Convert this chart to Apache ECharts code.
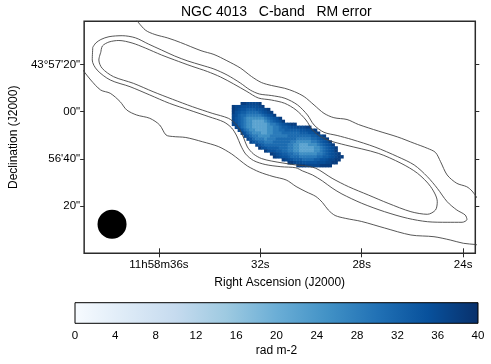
<!DOCTYPE html>
<html>
<head>
<meta charset="utf-8">
<title>NGC 4013 C-band RM error</title>
<script src="https://cdn.jsdelivr.net/npm/echarts@6/dist/echarts.min.js"></script>
<style>
  html, body { margin: 0; padding: 0; background: #fff; }
  #chart { width: 491px; height: 364px; }
</style>
</head>
<body>
<div id="chart"></div>
<script>
// ---- axes: RA seconds (11h58m..s), Dec arcsec above 43d56m00s
var raTicks = [36, 32, 28, 24];
var raLabels = ['11h58m36s', '32s', '28s', '24s'];
var decTicks = [20, 40, 60, 80];
var decLabels = ['20"', '56\'40"', '00"', '43\u00b057\'20"'];

// colour scale, rad m-2
var cbRange = [0, 40];
var bluesColors = ['#f7fbff', '#deebf7', '#c6dbef', '#9ecae1', '#6baed6', '#4292c6', '#2171b5', '#08519c', '#08306b'];

// RM error map: one string per row (top to bottom), one char per pixel, '.' = blank
// the digit indexes rmLevels
var rmLevels = [22, 25.5, 28.5, 31, 33, 34.5, 35.5, 36.5, 38];
var rmRows = [
  '...8877778',
  '87766666678',
  '8765544455678',
  '86544333345678',
  '764332222234568',
  '75432111111234568',
  '754321100001234568',
  '7643211000001223456788',
  '.75321100000112234456677788',
  '..753211000011223344444556678',
  '...753211100112223333334445568',
  '....7532211112222223333333344568',
  '.....7532221222333333322222334568',
  '......7543322233333322111112234568',
  '........754333333332211000111234568',
  '.........865444433322110000011234568',
  '...........8655443322110000011234568',
  '.............876544332211111122345678',
  '..............876554333222222334456788',
  '.................87654443333445567788',
  '...................88766555556667788',
  '......................888777778888'
];
// map pixel grid: RA/Dec of the top-left corner, pixel size
var mapRa0 = 33.127, mapDec0 = 64.11, mapDRa = 0.1157, mapDDec = 1.25;

// total intensity contours [RA s, Dec "]
var outerTop = [[36.95,99.7],[36.54,94.62],[36.16,92.71],[35.65,91.23],[35.15,89.32],[34.34,85.85],[33.83,84.24],[33.32,81.61],[32.79,78.52],[32.35,74.92],[31.96,72.37],[31.56,71.10],[31.04,69.92],[30.65,68.47],[30.27,66.36],[29.88,62.84],[29.49,59.32],[29.10,57.46],[28.58,56.69],[28.13,54.58],[27.35,51.82],[26.58,49.28],[25.93,46.61],[25.41,44.49],[25.09,42.71],[24.89,38.81],[24.63,33.18],[24.25,29.66],[23.86,28.22],[23.65,26.40],[23.42,23.0]];
var outerBottom = [[39.03,78.09],[38.95,76.95],[38.69,73.43],[38.30,69.19],[37.92,67.80],[37.53,64.24],[37.27,60.72],[36.88,58.60],[36.36,57.20],[35.97,54.36],[35.72,50.13],[35.46,49.49],[34.94,49.07],[34.29,47.29],[33.64,45.17],[33.13,42.08],[32.82,39.53],[32.51,36.99],[32.04,34.45],[31.50,32.54],[30.98,31.06],[30.59,28.31],[30.20,26.10],[29.81,24.07],[29.55,21.53],[29.32,18.35],[29.05,16.02],[28.65,14.83],[28.00,13.47],[27.10,10.72],[26.06,7.75],[25.15,7.03],[24.51,5.64],[23.99,4.24],[23.52,3.73],[23.42,3.52]];
var middleLoop = [[38.61,87.29],[38.49,89.11],[38.29,90.59],[37.97,91.78],[37.45,92.20],[36.93,91.31],[36.42,88.69],[35.90,86.14],[35.38,83.60],[34.86,81.48],[34.34,79.79],[33.83,78.09],[33.31,75.55],[32.79,72.16],[32.40,69.19],[32.04,67.50],[31.57,66.86],[31.03,65.68],[30.53,62.84],[30.14,58.60],[29.88,54.36],[29.49,51.27],[28.97,49.92],[28.39,48.22],[27.48,45.04],[26.58,40.93],[25.93,37.42],[25.41,32.46],[25.02,27.54],[24.63,21.86],[24.25,18.35],[23.92,16.23],[23.85,14.32],[24.04,13.14],[24.63,13.14],[25.41,13.39],[26.19,14.83],[27.10,17.63],[28.00,21.19],[28.78,25.13],[29.17,27.67],[29.55,30.64],[29.94,33.18],[30.33,34.87],[30.60,36.23],[31.19,36.69],[31.81,37.63],[32.27,39.32],[32.58,42.08],[32.78,45.89],[32.93,49.70],[33.13,53.09],[33.44,55.64],[34.03,57.88],[34.81,60.72],[35.59,63.56],[36.36,67.08],[37.14,70.59],[37.92,73.43],[38.44,77.67],[38.63,81.91],[38.61,87.29]];
var innerLoop = [[38.29,85.30],[38.23,87.84],[37.97,89.53],[37.58,90.17],[37.06,89.11],[36.54,86.99],[35.90,84.03],[35.38,81.91],[34.73,79.36],[34.09,77.03],[33.57,74.70],[33.05,71.74],[32.53,68.56],[32.08,65.81],[31.57,64.96],[31.04,63.56],[30.59,60.72],[30.20,56.48],[29.94,52.25],[29.62,49.41],[29.23,47.58],[28.65,45.89],[27.35,42.37],[26.45,38.14],[25.80,33.90],[25.28,28.22],[25.02,21.86],[25.09,18.35],[25.41,16.53],[26.06,17.63],[26.96,21.19],[27.74,24.70],[28.52,28.22],[29.17,31.78],[29.81,36.02],[30.33,37.20],[30.60,37.42],[31.11,38.26],[31.57,39.11],[31.96,40.17],[32.27,42.08],[32.51,45.04],[32.64,48.43],[32.78,51.82],[32.97,54.79],[33.26,57.20],[33.90,59.32],[34.68,62.12],[35.46,65.25],[36.23,68.47],[37.01,72.03],[37.79,74.83],[38.24,78.39],[38.37,81.91],[38.29,85.30]];

// restoring beam: RA, Dec, diameter (")
var beam = [[37.85, 12.3, 12.3]];

var font = 'Liberation Sans, Arial, sans-serif';

function buildMapData() {
  var out = [];
  for (var i = 0; i < rmRows.length; i++) {
    var row = rmRows[i];
    for (var j = 0; j < row.length; j++) {
      var c = row.charAt(j);
      if (c === '.') continue;
      out.push([mapRa0 - j * mapDRa, mapDec0 - i * mapDDec, rmLevels[parseInt(c, 10)]]);
    }
  }
  return out;
}

function lookup(ticks, labels) {
  return function(v) {
    for (var i = 0; i < ticks.length; i++) {
      if (Math.abs(ticks[i] - v) < 1e-6) return labels[i];
    }
    return '';
  };
}

function contour(data) {
  return {
    type: 'line',
    xAxisIndex: 0,
    yAxisIndex: 0,
    data: data,
    showSymbol: false,
    symbol: 'none',
    smooth: 0.3,
    silent: true,
    z: 5,
    lineStyle: { color: '#444', width: 0.9 }
  };
}

var chart = echarts.init(document.getElementById('chart'), null, { renderer: 'canvas' });

var frameColor = '#2b2b2b';
var option = {
  backgroundColor: '#fff',
  animation: false,
  title: {
    text: 'NGC 4013   C-band   RM error',
    left: 181,
    top: 5,
    padding: 0,
    textStyle: { fontFamily: font, fontSize: 14, fontWeight: 'normal', color: '#000' }
  },
  grid: [
    { left: 78, right: 15.7, top: 21.3, bottom: 110.7, show: true, borderColor: frameColor, borderWidth: 1.5, backgroundColor: 'transparent' },
    { left: 75, right: 13, top: 302.7, height: 20.6, show: false }
  ],
  visualMap: {
    show: false,
    type: 'continuous',
    seriesIndex: 0,
    dimension: 2,
    min: cbRange[0],
    max: cbRange[1],
    inRange: { color: bluesColors }
  },
  xAxis: [
    {
      gridIndex: 0, type: 'value', min: 23.52, max: 38.95, inverse: true, position: 'bottom',
      name: 'Right Ascension (J2000)', nameLocation: 'middle', nameGap: 22,
      nameTextStyle: { fontFamily: font, fontSize: 12, color: '#000' },
      axisLine: { show: false },
      axisTick: { show: true, length: 4, customValues: raTicks, lineStyle: { color: frameColor } },
      axisLabel: { customValues: raTicks, formatter: lookup(raTicks, raLabels), margin: 6, fontFamily: font, fontSize: 11.5, color: '#000' },
      splitLine: { show: false }
    },
    {
      gridIndex: 0, type: 'value', min: 23.52, max: 38.95, inverse: true, position: 'top',
      axisLine: { show: false },
      axisTick: { show: true, length: 5, customValues: raTicks, lineStyle: { color: frameColor } },
      axisLabel: { show: false },
      splitLine: { show: false }
    },
    {
      gridIndex: 1, type: 'value', min: cbRange[0], max: cbRange[1], interval: 4,
      name: 'rad m-2', nameLocation: 'middle', nameGap: 21,
      nameTextStyle: { fontFamily: font, fontSize: 12, color: '#000' },
      axisLine: { show: false },
      axisTick: { show: false },
      axisLabel: { margin: 7, fontFamily: font, fontSize: 11.5, color: '#000' },
      splitLine: { show: false }
    }
  ],
  yAxis: [
    {
      gridIndex: 0, type: 'value', min: 0, max: 98.3, position: 'left',
      name: 'Declination (J2000)', nameLocation: 'middle', nameGap: 61,
      nameTextStyle: { fontFamily: font, fontSize: 12, color: '#000' },
      axisLine: { show: false },
      axisTick: { show: true, length: 4, customValues: decTicks, lineStyle: { color: frameColor } },
      axisLabel: { customValues: decTicks, formatter: lookup(decTicks, decLabels), margin: 4, fontFamily: font, fontSize: 11.5, color: '#000' },
      splitLine: { show: false }
    },
    {
      gridIndex: 0, type: 'value', min: 0, max: 98.3, position: 'right',
      axisLine: { show: false },
      axisTick: { show: true, length: 4, customValues: decTicks, lineStyle: { color: frameColor } },
      axisLabel: { show: false },
      splitLine: { show: false }
    },
    {
      gridIndex: 1, type: 'value', min: 0, max: 1, show: false
    }
  ],
  series: [
    // RM error pixels
    {
      type: 'custom',
      xAxisIndex: 0,
      yAxisIndex: 0,
      data: buildMapData(),
      encode: { x: 0, y: 1 },
      silent: true,
      z: 2,
      renderItem: function(params, api) {
        var p0 = api.coord([api.value(0), api.value(1)]);
        var p1 = api.coord([api.value(0) - mapDRa, api.value(1) - mapDDec]);
        return {
          type: 'rect',
          shape: { x: p0[0], y: p0[1], width: p1[0] - p0[0] + 0.5, height: p1[1] - p0[1] + 0.5 },
          style: { fill: api.visual('color') }
        };
      }
    },
    contour(outerTop),
    contour(outerBottom),
    contour(middleLoop),
    contour(innerLoop),
    // beam
    {
      type: 'custom',
      xAxisIndex: 0,
      yAxisIndex: 0,
      data: beam,
      encode: { x: 0, y: 1 },
      silent: true,
      z: 6,
      renderItem: function(params, api) {
        var c = api.coord([api.value(0), api.value(1)]);
        var r = api.size([0, api.value(2)])[1] / 2;
        return { type: 'circle', shape: { cx: c[0], cy: c[1], r: r }, style: { fill: '#000' } };
      }
    },
    // colour bar
    {
      type: 'custom',
      xAxisIndex: 2,
      yAxisIndex: 2,
      data: [cbRange],
      encode: { x: [0, 1] },
      silent: true,
      renderItem: function(params, api) {
        var p0 = api.coord([api.value(0), 1]);
        var p1 = api.coord([api.value(1), 0]);
        var stops = [];
        for (var i = 0; i < bluesColors.length; i++) {
          stops.push({ offset: i / (bluesColors.length - 1), color: bluesColors[i] });
        }
        return {
          type: 'rect',
          shape: { x: p0[0], y: p0[1], width: p1[0] - p0[0], height: p1[1] - p0[1] },
          style: {
            fill: new echarts.graphic.LinearGradient(0, 0, 1, 0, stops),
            stroke: '#000',
            lineWidth: 1
          }
        };
      }
    }
  ]
};

chart.setOption(option);
</script>
</body>
</html>
